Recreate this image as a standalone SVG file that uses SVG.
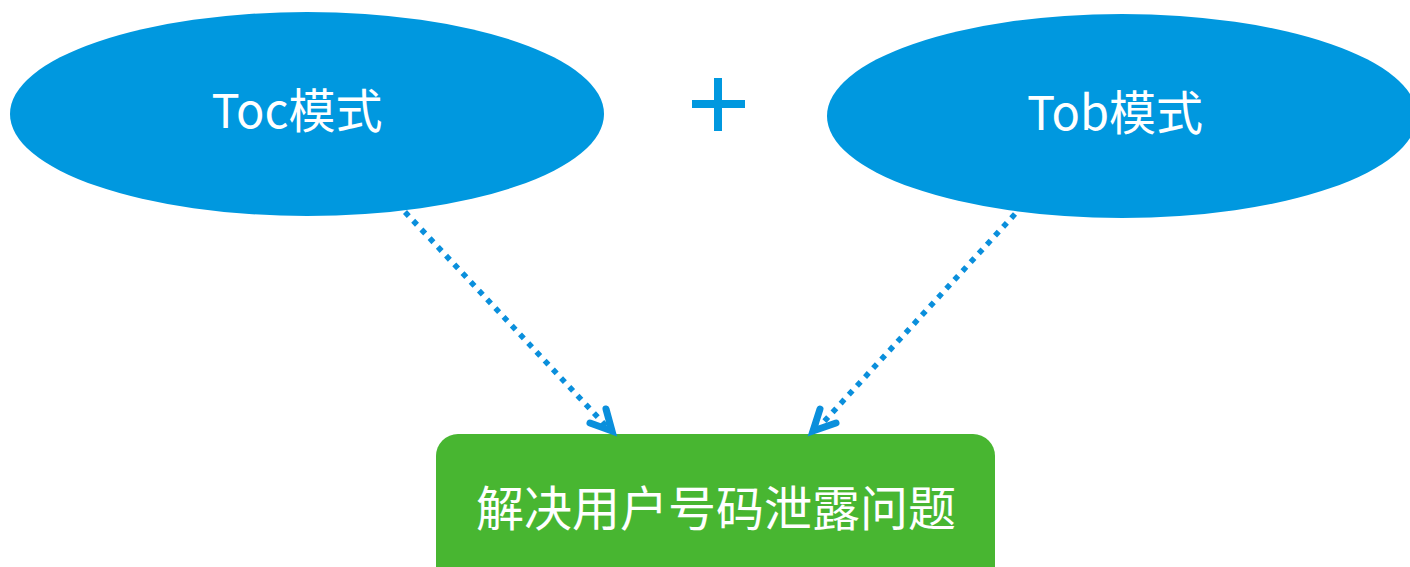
<svg xmlns="http://www.w3.org/2000/svg" width="1410" height="567" viewBox="0 0 1410 567">
<style>
.ell{fill:#0098DF;}
.lbl{font-family:"Noto Sans CJK SC","Liberation Sans",sans-serif;fill:#FFFFFF;text-anchor:middle;dominant-baseline:central;}
.conn{stroke:#0A8FDC;stroke-width:5.5;stroke-dasharray:5.5 6.5;fill:none;}
.head{stroke:#0A8FDC;stroke-width:7;fill:none;stroke-linecap:round;stroke-linejoin:miter;}
</style>
<rect width="1410" height="567" fill="#FFFFFF"/>
<g id="toc">
<ellipse class="ell" cx="307" cy="114" rx="297" ry="102"/>
<text class="lbl" x="297" y="107" font-size="47">Toc模式</text>
</g>
<g id="plus">
<path d="M714 78 H722 V100 H745 V108 H722 V131 H714 V108 H692 V100 H714 Z" fill="#0098DF"/>
</g>
<g id="tob">
<ellipse class="ell" cx="1122" cy="116" rx="295" ry="102"/>
<text class="lbl" x="1115" y="109" font-size="47">Tob模式</text>
</g>
<g id="result">
<rect x="436" y="434" width="559" height="160" rx="22" fill="#48B631"/>
<text class="lbl" x="716" y="505" font-size="48">解决用户号码泄露问题</text>
</g>
<g id="connectors">
<line class="conn" x1="405" y1="212" x2="606" y2="426"/>
<polyline class="head" points="606,409 612,431 590,423"/>
<line class="conn" x1="1015" y1="214" x2="820" y2="426"/>
<polyline class="head" points="820,409 813,431 836,423"/>
</g>
</svg>
